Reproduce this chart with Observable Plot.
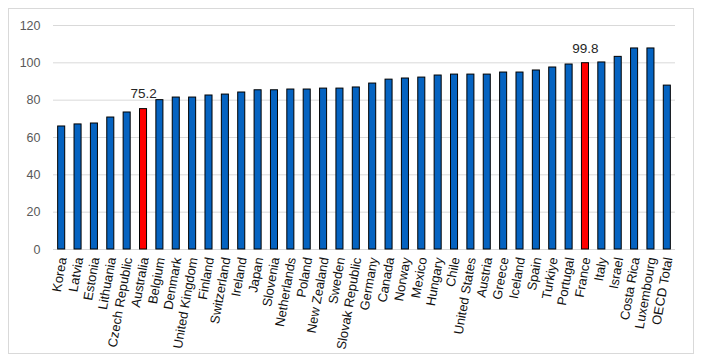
<!DOCTYPE html>
<html><head><meta charset="utf-8">
<script src="https://cdn.jsdelivr.net/npm/d3@7"></script>
<script src="https://cdn.jsdelivr.net/npm/@observablehq/plot@0.6"></script>
<style>
body{margin:0;background:#fff;}
#wrap{position:relative;width:706px;height:361px;}
#frame{position:absolute;left:8px;top:8px;width:684px;height:344px;border:1px solid #d9d9d9;pointer-events:none;}
</style></head><body><div id="wrap"><div id="frame"></div></div>
<script>
const countries = ["Korea","Latvia","Estonia","Lithuania","Czech Republic","Australia","Belgium","Denmark","United Kingdom","Finland","Switzerland","Ireland","Japan","Slovenia","Netherlands","Poland","New Zealand","Sweden","Slovak Republic","Germany","Canada","Norway","Mexico","Hungary","Chile","United States","Austria","Greece","Iceland","Spain","Turkiye","Portugal","France","Italy","Israel","Costa Rica","Luxembourg","OECD Total"];
const values = [65.9,67.0,67.5,70.7,73.4,75.2,80.0,81.4,81.4,82.5,83.0,84.1,85.3,85.3,85.7,85.7,86.2,86.2,86.8,88.9,91.0,91.6,92.1,93.2,93.7,93.7,93.7,94.8,94.8,95.9,97.5,99.1,99.8,100.2,103.2,107.7,107.7,87.8];
const highlighted = ["Australia","France"];
const yTicks = [0,20,40,60,80,100,120];

const data = countries.map((c,i)=>({country:c, value:values[i], hi: highlighted.includes(c)}));

const chart = Plot.plot({
  width:706, height:361,
  marginLeft:53, marginRight:31, marginTop:25, marginBottom:112,
  style:{fontFamily:"'Liberation Sans', Arial, sans-serif", background:"transparent", overflow:"visible"},
  x:{domain:countries, paddingInner:0.57, paddingOuter:0.285, round:false, label:null},
  y:{domain:[0,120], label:null},
  marks:[
    Plot.gridY(yTicks,{stroke:"#d9d9d9", strokeOpacity:1}),
    Plot.barY(data.filter(d=>!d.hi),{x:"country", y:"value", fill:"#0563c1", stroke:"#000", strokeWidth:1}),
    Plot.barY(data.filter(d=>d.hi),{x:"country", y:"value", fill:"#ff0000", stroke:"#000", strokeWidth:1}),
    Plot.text(data.filter(d=>d.hi),{x:"country", y:"value", text:d=>d.value.toFixed(1), dy:-15, fontSize:13.5, fill:"#262626"}),
    Plot.axisY(yTicks,{tickSize:0, tickPadding:13, fontSize:12.5, color:"#595959", label:null}),
    Plot.axisX({tickSize:0, tickPadding:8, tickRotate:-80, fontSize:13, color:"#111", label:null, dx:1})
  ]
});
const svg = chart;
svg.style.position="absolute"; svg.style.left="0"; svg.style.top="0";
document.getElementById("wrap").appendChild(svg);
</script>
</body></html>
